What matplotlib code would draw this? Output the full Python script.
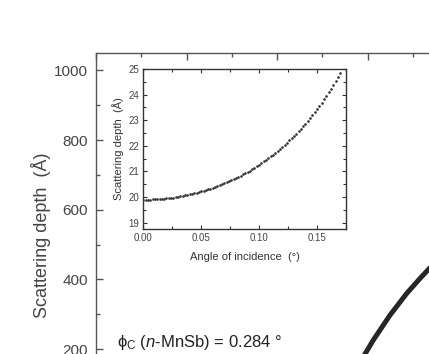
import matplotlib
matplotlib.use("Agg")
import matplotlib.pyplot as plt
from matplotlib.ticker import MultipleLocator

plt.rcParams['font.family'] = ['Liberation Sans', 'DejaVu Sans']
plt.rcParams['mathtext.fontset'] = 'custom'
plt.rcParams['mathtext.rm'] = 'Liberation Sans'
plt.rcParams['mathtext.it'] = 'Liberation Sans:italic'

# === データ ===
# メイン: 入射角 (deg) vs 散乱深さ (Å)
main_angle = [0.00, 0.05, 0.10, 0.15, 0.20, 0.25, 0.27, 0.28, 0.285, 0.290,
              0.2972, 0.3064, 0.3249, 0.3433, 0.3580, 0.3683, 0.380, 0.400]
main_depth = [19.9, 20.2, 21.3, 23.4, 28.0, 42.0, 64.0, 100.0, 125.0, 155.0,
              185.7, 225.8, 297.5, 359.7, 402.7, 431.4, 462.0, 515.0]

# インセット: 0 - 0.170 deg (0.002 刻み)
inset_angle = [0.000, 0.002, 0.004, 0.006, 0.008, 0.010, 0.012, 0.014, 0.016, 0.018,
               0.020, 0.022, 0.024, 0.026, 0.028, 0.030, 0.032, 0.034, 0.036, 0.038,
               0.040, 0.042, 0.044, 0.046, 0.048, 0.050, 0.052, 0.054, 0.056, 0.058,
               0.060, 0.062, 0.064, 0.066, 0.068, 0.070, 0.072, 0.074, 0.076, 0.078,
               0.080, 0.082, 0.084, 0.086, 0.088, 0.090, 0.092, 0.094, 0.096, 0.098,
               0.100, 0.102, 0.104, 0.106, 0.108, 0.110, 0.112, 0.114, 0.116, 0.118,
               0.120, 0.122, 0.124, 0.126, 0.128, 0.130, 0.132, 0.134, 0.136, 0.138,
               0.140, 0.142, 0.144, 0.146, 0.148, 0.150, 0.152, 0.154, 0.156, 0.158,
               0.160, 0.162, 0.164, 0.166, 0.168, 0.170]
inset_depth = [19.90, 19.90, 19.90, 19.90, 19.91, 19.91, 19.92, 19.92, 19.93, 19.94,
               19.95, 19.96, 19.97, 19.98, 20.00, 20.01, 20.03, 20.04, 20.06, 20.08,
               20.10, 20.12, 20.14, 20.17, 20.19, 20.22, 20.24, 20.27, 20.30, 20.33,
               20.36, 20.39, 20.43, 20.46, 20.50, 20.53, 20.57, 20.61, 20.65, 20.70,
               20.74, 20.79, 20.83, 20.88, 20.93, 20.98, 21.03, 21.09, 21.15, 21.20,
               21.26, 21.32, 21.39, 21.45, 21.52, 21.59, 21.66, 21.73, 21.80, 21.88,
               21.96, 22.04, 22.12, 22.21, 22.29, 22.38, 22.48, 22.57, 22.67, 22.77,
               22.87, 22.98, 23.09, 23.20, 23.32, 23.44, 23.56, 23.68, 23.81, 23.95,
               24.09, 24.23, 24.38, 24.53, 24.68, 24.84]

annot_text = 'ϕ$_\\mathrm{C}$ ($\\mathit{n}$-MnSb) = 0.284 °'

# === 描画 ===
fig = plt.figure(figsize=(4.29, 3.54), dpi=100)

# メイン軸 (図の外まではみ出す)
ax = fig.add_axes([96 / 429, -0.1829, 1.0548, 1.0332])
ax.plot(main_angle, main_depth, color='#262626', lw=3.6, solid_capstyle='round')
ax.set_xlim(0, 0.5)
ax.set_ylim(0, 1050)
ax.xaxis.set_major_locator(MultipleLocator(0.1))
ax.xaxis.set_minor_locator(MultipleLocator(0.05))
ax.yaxis.set_major_locator(MultipleLocator(200))
ax.yaxis.set_minor_locator(MultipleLocator(100))
ax.tick_params(which='both', direction='in', top=True, right=True,
               labelbottom=False, color='#555555', width=1.0)
ax.tick_params(axis='y', which='major', labelsize=11, labelcolor='#444444', pad=6)
ax.tick_params(which='major', length=5)
ax.tick_params(which='minor', length=3)
for s in ax.spines.values():
    s.set_color('#555555')
    s.set_linewidth(1.0)
ax.set_ylabel('Scattering depth  (Å)', fontsize=13, color='#444444')
ax.yaxis.set_label_coords(-0.100, 0.502)
ax.text(117 / 429, 1 - 343 / 354, annot_text, transform=fig.transFigure,
        fontsize=12, color='#222222', ha='left', va='center')

# インセット
axin = fig.add_axes([143.3 / 429, 125 / 354, 202.7 / 429, 160 / 354])
axin.plot(inset_angle, inset_depth, 'o', color='#333333', ms=1.9, mew=0)
axin.set_xlim(0, 0.175)
axin.set_ylim(18.75, 25)
axin.xaxis.set_major_locator(MultipleLocator(0.05))
axin.xaxis.set_minor_locator(MultipleLocator(0.025))
axin.yaxis.set_major_locator(MultipleLocator(1))
axin.yaxis.set_minor_locator(MultipleLocator(0.5))
axin.tick_params(which='both', direction='in', top=True, right=True,
                 color='#333333', width=0.8, labelsize=7, labelcolor='#444444', pad=3)
axin.tick_params(which='major', length=3)
axin.tick_params(which='minor', length=2)
axin.xaxis.set_major_formatter(plt.FuncFormatter(lambda v, p: f'{v:.2f}'))
for s in axin.spines.values():
    s.set_color('#333333')
    s.set_linewidth(1.0)
axin.set_xlabel('Angle of incidence  (°)', fontsize=8, color='#333333', labelpad=6)
axin.set_ylabel('Scattering depth  (Å)', fontsize=8, color='#333333', labelpad=3)

fig.savefig('out.png', dpi=100)
